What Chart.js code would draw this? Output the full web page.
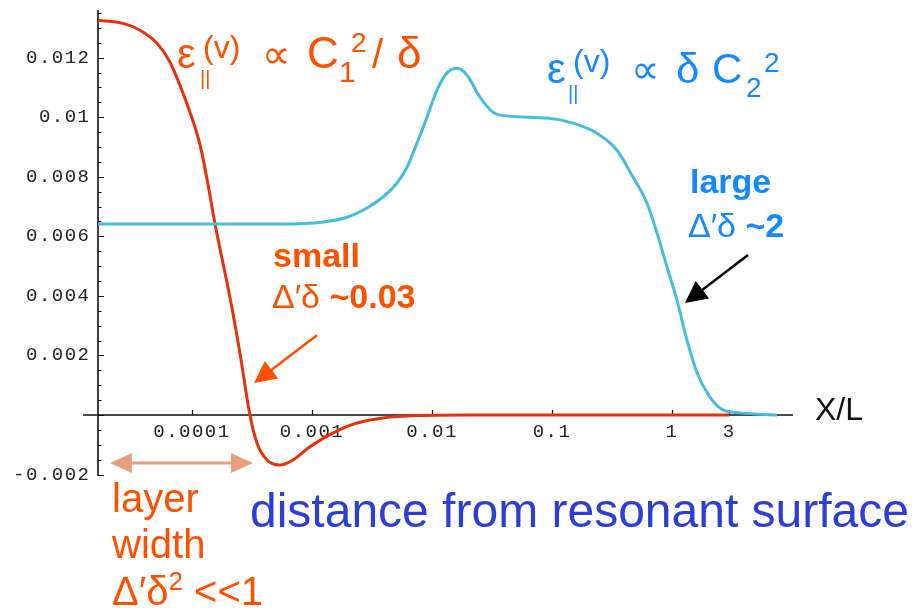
<!DOCTYPE html>
<html lang="en">
<head>
<meta charset="UTF-8">
<title>Parallel electric field vs distance from resonant surface</title>
<script src="https://cdn.jsdelivr.net/npm/chart.js"></script>
<style>
  html, body { margin: 0; padding: 0; background: #fff; }
  #chart { display: block; }
</style>
</head>
<body>
<canvas id="chart" width="918" height="616"></canvas>
<script>
// small delta' delta (red) curve, x = X/L
const redX = [1.65e-5, 2.66e-5, 3.69e-5, 5.11e-5, 6.56e-5, 7.94e-5, 9.62e-5, 1.17e-4, 1.33e-4, 1.58e-4,
              2.07e-4, 2.51e-4, 3.04e-4, 3.48e-4, 4.22e-4, 5.41e-4, 6.95e-4, 9.62e-4, 1.5e-3, 2.37e-3, 3.91e-3,
              7.5e-3, 0.02, 3];
const redY = [0.01326, 0.01315, 0.01292, 0.01248, 0.01185, 0.01107, 0.01017, 0.00906, 0.00795, 0.00628,
              0.00396, 0.00208, 0, -0.00094, -0.00151, -0.00168, -0.00151, -0.00107, -0.0006, -0.00027, -0.0001,
              -0.00002, 0, 0];

// large delta' delta (blue) curve
const blueX = [1.65e-5, 5.41e-4, 1.24e-3, 1.96e-3, 2.87e-3, 3.91e-3, 5.11e-3, 6.19e-3, 7.5e-3, 9.08e-3, 1.1e-2,
               1.33e-2, 1.62e-2, 1.96e-2, 2.51e-2, 3.22e-2, 3.69e-2, 9.08e-2, 0.15, 0.237, 0.348, 0.473, 0.619,
               0.75, 0.908, 1.1, 1.33, 1.62, 2.07, 2.66, 3.69, 7.5];
const blueY = [0.00641, 0.00641, 0.00648, 0.00664, 0.00695, 0.00732, 0.00779, 0.00832, 0.00913, 0.0100, 0.01091,
               0.01148, 0.01164, 0.01141, 0.01067, 0.01017, 0.01007, 0.00997, 0.0098, 0.00946, 0.00889, 0.00799,
               0.00711, 0.00611, 0.00497, 0.00386, 0.00252, 0.00141, 0.0006, 0.00017, 0.00007, 0];

// tick labels
const xTickVals = [0.0001, 0.001, 0.01, 0.1, 1, 3];
const xTickLabels = ['0.0001', '0.001', '0.01', '0.1', '1', '3'];
const yTickVals = [-0.002, 0.002, 0.004, 0.006, 0.008, 0.01, 0.012];
const yTickLabels = ['-0.002', '0.002', '0.004', '0.006', '0.008', '0.01', '0.012'];

const SANS = '"Liberation Sans", Arial, sans-serif';
const ORANGE = '#ff5000';
const SKY = '#1488ff';

function drawRuns(ctx, color, items) {
  ctx.fillStyle = color;
  ctx.textAlign = 'left';
  ctx.textBaseline = 'alphabetic';
  let cx = 0;
  for (const [t, x, yb, size, bold] of items) {
    ctx.font = (bold ? 'bold ' : '') + size + 'px ' + SANS;
    const px = x == null ? cx : x;
    ctx.fillText(t, px, yb);
    cx = px + ctx.measureText(t).width;
  }
}

function arrowHead(ctx, x1, y1, x2, y2, len, wid) {
  const ang = Math.atan2(y2 - y1, x2 - x1);
  ctx.beginPath();
  ctx.moveTo(x2, y2);
  ctx.lineTo(x2 - len * Math.cos(ang) + wid / 2 * Math.sin(ang), y2 - len * Math.sin(ang) - wid / 2 * Math.cos(ang));
  ctx.lineTo(x2 - len * Math.cos(ang) - wid / 2 * Math.sin(ang), y2 - len * Math.sin(ang) + wid / 2 * Math.cos(ang));
  ctx.closePath();
  ctx.fill();
}

function arrow(ctx, x1, y1, x2, y2, color, lw, len, wid, both) {
  ctx.strokeStyle = color;
  ctx.fillStyle = color;
  ctx.lineWidth = lw;
  const ang = Math.atan2(y2 - y1, x2 - x1);
  const sx = both ? x1 + (len - 2) * Math.cos(ang) : x1;
  const sy = both ? y1 + (len - 2) * Math.sin(ang) : y1;
  ctx.beginPath();
  ctx.moveTo(sx, sy);
  ctx.lineTo(x2 - (len - 2) * Math.cos(ang), y2 - (len - 2) * Math.sin(ang));
  ctx.stroke();
  arrowHead(ctx, x1, y1, x2, y2, len, wid);
  if (both) arrowHead(ctx, x2, y2, x1, y1, len, wid);
}

// Mathematica-like axes: lines crossing, ticks pointing inwards
const axesPlugin = {
  id: 'mmaAxes',
  beforeDraw(chart) {
    chart.ctx.letterSpacing = '1.5px';
  },
  beforeDatasetsDraw(chart) {
    const { ctx, chartArea: a, scales: { x, y } } = chart;
    const y0 = y.getPixelForValue(0);
    ctx.save();
    ctx.letterSpacing = '0px';
    ctx.strokeStyle = '#111';
    ctx.lineWidth = 1.6;
    ctx.beginPath();
    ctx.moveTo(a.left, a.top);
    ctx.lineTo(a.left, a.bottom);
    ctx.moveTo(a.left - 15, y0);
    ctx.lineTo(a.right, y0);
    ctx.stroke();
    ctx.lineWidth = 1.2;
    ctx.beginPath();
    for (let i = -4; i <= 27; i++) {
      const py = Math.round(y.getPixelForValue(i * 0.0005)) + 0.5;
      const len = i % 4 === 0 ? 6 : 3.5;
      ctx.moveTo(a.left, py);
      ctx.lineTo(a.left + len, py);
    }
    for (const v of xTickVals) {
      const px = Math.round(x.getPixelForValue(v)) + 0.5;
      ctx.moveTo(px, y0);
      ctx.lineTo(px, y0 - 5);
    }
    ctx.stroke();
    ctx.restore();
  },
  afterDraw(chart) {
    const { ctx, scales: { x, y } } = chart;
    ctx.save();
    ctx.letterSpacing = '0px';

    drawRuns(ctx, ORANGE, [
      ['\u03b5', 177, 68, 42], ['||', 200, 85, 20], ['(v)', 203, 58, 32], ['\u221d', 262, 68, 40],
      ['C', 307, 68, 44], ['1', 339, 82, 30], ['2', 351, 52, 28], ['/', 372, 68, 40], ['\u03b4', 397, 68, 44]
    ]);
    drawRuns(ctx, SKY, [
      ['\u03b5', 547, 83, 42], ['||', 568, 100, 20], ['(v)', 573, 72, 32], ['\u221d', 631, 83, 40],
      ['\u03b4', 676, 83, 42], ['C', 712, 83, 42], ['2', 746, 97, 28], ['2', 764, 72, 28]
    ]);
    drawRuns(ctx, ORANGE, [['small', 273, 267, 34, true]]);
    drawRuns(ctx, ORANGE, [['\u0394\u2032\u03b4 ', 272, 308, 34], ['~0.03', null, 308, 34, true]]);
    drawRuns(ctx, SKY, [['large', 690, 193, 34, true]]);
    drawRuns(ctx, SKY, [['\u0394\u2032\u03b4 ', 688, 237, 34], ['~2', null, 237, 34, true]]);

    drawRuns(ctx, ORANGE, [['layer', 112, 512, 40]]);
    drawRuns(ctx, ORANGE, [['width', 112, 558, 40]]);
    drawRuns(ctx, ORANGE, [['\u0394\u2032\u03b4', 112, 605, 40], ['2', null, 590, 26], [' <<1', null, 605, 40]]);
    drawRuns(ctx, '#2b3fd6', [['distance from resonant surface', 250, 527, 48]]);

    ctx.fillStyle = '#111';
    ctx.font = '32px ' + SANS;
    ctx.fillText('X/L', 815, 420);

    // arrows anchored in data coordinates
    const P = (vx, vy) => [x.getPixelForValue(vx), y.getPixelForValue(vy)];
    let t = P(1.10e-3, 0.00268), h = P(3.29e-4, 0.00107);
    arrow(ctx, t[0], t[1], h[0], h[1], ORANGE, 2.5, 22, 22, false);
    t = P(4.30, 0.00537); h = P(1.28, 0.00376);
    arrow(ctx, t[0], t[1], h[0], h[1], '#000', 2.5, 22, 22, false);
    t = P(2.07e-5, -0.00161); h = P(3.22e-4, -0.00161);
    arrow(ctx, t[0], t[1], h[0], h[1], '#e99e7c', 3, 22, 20, true);
    ctx.restore();
  }
};

new Chart(document.getElementById('chart'), {
  type: 'line',
  data: {
    datasets: [
      {
        label: 'large',
        data: blueX.map((v, i) => ({ x: v, y: blueY[i] })),
        borderColor: '#45bddc',
        borderWidth: 3,
        pointRadius: 0,
        fill: false,
        cubicInterpolationMode: 'monotone'
      },
      {
        label: 'small',
        data: redX.map((v, i) => ({ x: v, y: redY[i] })),
        borderColor: '#e8300c',
        borderWidth: 3,
        pointRadius: 0,
        fill: false,
        cubicInterpolationMode: 'monotone'
      }
    ]
  },
  options: {
    responsive: false,
    devicePixelRatio: 1,
    animation: false,
    layout: { padding: { left: 0, top: 10, right: 125, bottom: 140 } },
    plugins: { legend: { display: false }, tooltip: { enabled: false } },
    scales: {
      x: {
        type: 'logarithmic',
        min: 1.648e-5,
        max: 10.19,
        position: { y: 0 },
        grid: { display: false, drawTicks: false },
        border: { display: false },
        afterBuildTicks: s => { s.ticks = xTickVals.map(v => ({ value: v })); },
        ticks: {
          autoSkip: false,
          maxRotation: 0,
          padding: 6,
          color: '#222',
          font: { family: '"Liberation Mono", monospace', size: 19 },
          callback: (v, i) => xTickLabels[i]
        }
      },
      y: {
        type: 'linear',
        min: -0.00205,
        max: 0.0136,
        grid: { display: false, drawTicks: false },
        border: { display: false },
        afterFit: s => { s.width = 98; s.paddingTop = 0; s.paddingBottom = 0; },
        afterBuildTicks: s => { s.ticks = yTickVals.map(v => ({ value: v })); },
        ticks: {
          padding: 7.5,
          color: '#222',
          font: { family: '"Liberation Mono", monospace', size: 19 },
          callback: (v, i) => yTickLabels[i]
        }
      }
    }
  },
  plugins: [axesPlugin]
});
</script>
</body>
</html>
